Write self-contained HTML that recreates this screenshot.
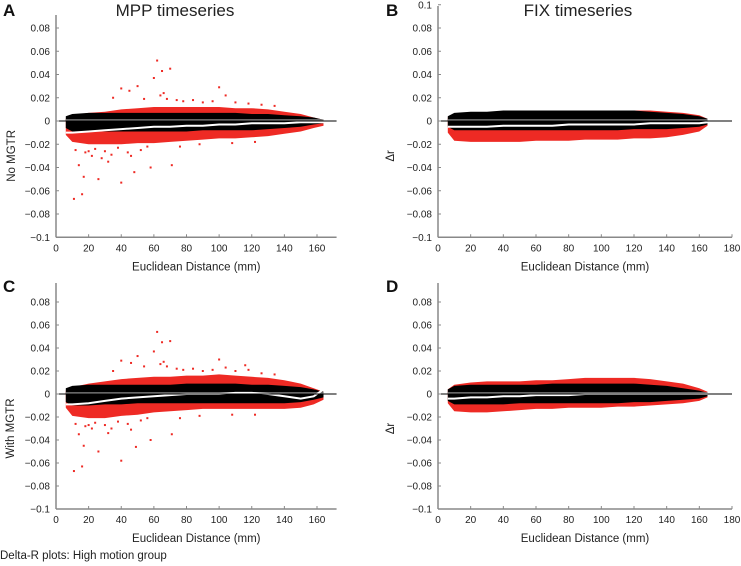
<!DOCTYPE html>
<html><head><meta charset="utf-8"><style>
body{margin:0;background:#fff;}
svg{display:block;font-family:"Liberation Sans",sans-serif;}
</style></head><body>
<svg id="fig" width="741" height="566" viewBox="0 0 741 566"></svg>
<script>
// ---- data (distance bins in mm, delta-r values) ----
const binsAC = [6,10,20,30,40,50,60,70,80,90,100,110,120,130,140,150,158,164];
const binsBD = [6,10,20,30,40,50,60,70,80,90,100,110,120,130,140,150,160,165];
// Panel A
const aBlackTop = [0.004,0.006,0.007,0.007,0.007,0.007,0.007,0.007,0.007,0.007,0.007,0.007,0.006,0.006,0.005,0.004,0.003,0.001];
const aBlackBot = [-0.006,-0.009,-0.009,-0.009,-0.009,-0.009,-0.009,-0.009,-0.009,-0.008,-0.008,-0.008,-0.008,-0.007,-0.006,-0.005,-0.003,-0.002];
const aRedTop   = [0.002,0.005,0.007,0.008,0.010,0.011,0.012,0.012,0.012,0.012,0.012,0.011,0.011,0.010,0.008,0.006,0.003,0.001];
const aRedBot   = [-0.012,-0.018,-0.020,-0.020,-0.020,-0.019,-0.019,-0.018,-0.017,-0.016,-0.015,-0.015,-0.014,-0.013,-0.011,-0.009,-0.006,-0.004];
const aMean     = [-0.010,-0.010,-0.009,-0.008,-0.007,-0.006,-0.005,-0.005,-0.004,-0.004,-0.003,-0.003,-0.002,-0.002,-0.002,-0.001,-0.001,-0.001];
const aOutX = [11,16,17,26,40,48,50,60,62,65,70,71,40,45,100,35,14,22,28,12,18,24,30,34,38,44,52,56,58,64,68,74,78,84,90,96,104,110,118,126,134,20,32,46,54,66,76,88,108,122];
const aOutY = [-0.067,-0.063,-0.048,-0.050,-0.053,-0.044,0.030,0.037,0.052,0.043,0.045,-0.038,0.028,0.026,0.029,0.020,-0.038,-0.030,-0.032,-0.025,-0.027,-0.024,-0.026,-0.029,-0.023,-0.027,-0.025,-0.022,-0.040,0.022,0.019,0.018,0.017,0.018,0.016,0.017,0.022,0.016,0.015,0.014,0.013,-0.026,-0.035,-0.030,0.019,0.024,-0.022,-0.020,-0.019,-0.018];
// Panel B
const bBlackTop = [0.004,0.007,0.008,0.008,0.009,0.009,0.009,0.009,0.009,0.009,0.009,0.009,0.009,0.008,0.007,0.006,0.004,0.002];
const bBlackBot = [-0.005,-0.008,-0.008,-0.008,-0.008,-0.008,-0.008,-0.008,-0.008,-0.008,-0.008,-0.008,-0.007,-0.007,-0.007,-0.006,-0.005,-0.003];
const bRedTop   = [0.003,0.006,0.007,0.007,0.008,0.008,0.008,0.008,0.008,0.008,0.009,0.009,0.009,0.009,0.008,0.007,0.005,0.002];
const bRedBot   = [-0.010,-0.017,-0.018,-0.018,-0.018,-0.018,-0.017,-0.017,-0.017,-0.016,-0.016,-0.016,-0.015,-0.015,-0.014,-0.012,-0.009,-0.004];
const bMean     = [-0.005,-0.005,-0.005,-0.005,-0.004,-0.004,-0.004,-0.004,-0.003,-0.003,-0.003,-0.003,-0.003,-0.002,-0.002,-0.002,-0.002,-0.001];
// Panel C
const cBlackTop = [0.005,0.007,0.008,0.008,0.008,0.008,0.008,0.008,0.009,0.009,0.009,0.009,0.008,0.008,0.007,0.006,0.004,0.002];
const cBlackBot = [-0.007,-0.010,-0.010,-0.009,-0.009,-0.008,-0.008,-0.008,-0.008,-0.008,-0.008,-0.008,-0.008,-0.008,-0.008,-0.007,-0.005,-0.003];
const cRedTop   = [0.003,0.006,0.009,0.011,0.013,0.014,0.015,0.015,0.016,0.016,0.017,0.016,0.015,0.014,0.012,0.009,0.005,0.002];
const cRedBot   = [-0.012,-0.019,-0.021,-0.021,-0.019,-0.018,-0.016,-0.015,-0.014,-0.013,-0.013,-0.013,-0.013,-0.013,-0.013,-0.012,-0.009,-0.005];
const cMean     = [-0.009,-0.009,-0.008,-0.006,-0.004,-0.003,-0.002,-0.001,0.000,0.000,0.000,0.001,0.001,0.000,-0.002,-0.004,-0.002,0.004];
const cOutX = [11,16,17,26,40,49,50,60,62,65,70,71,40,46,100,116,35,14,22,12,18,24,30,34,38,44,52,56,58,64,68,74,78,84,90,96,104,110,118,126,134,20,32,46,54,66,76,88,108,122];
const cOutY = [-0.067,-0.063,-0.045,-0.050,-0.058,-0.046,0.033,0.037,0.054,0.045,0.046,-0.035,0.029,0.027,0.030,0.025,0.020,-0.035,-0.030,-0.026,-0.028,-0.025,-0.027,-0.030,-0.024,-0.026,-0.023,-0.021,-0.040,0.026,0.024,0.022,0.021,0.022,0.020,0.021,0.023,0.020,0.021,0.018,0.017,-0.027,-0.034,-0.031,0.024,0.028,-0.021,-0.019,-0.018,-0.018];
// Panel D
const dBlackTop = [0.004,0.007,0.008,0.008,0.008,0.008,0.008,0.009,0.009,0.009,0.009,0.009,0.009,0.008,0.007,0.005,0.003,0.001];
const dBlackBot = [-0.006,-0.009,-0.009,-0.009,-0.009,-0.008,-0.008,-0.008,-0.008,-0.008,-0.008,-0.008,-0.007,-0.007,-0.006,-0.005,-0.004,-0.002];
const dRedTop   = [0.004,0.008,0.010,0.011,0.011,0.011,0.012,0.012,0.013,0.014,0.014,0.014,0.014,0.013,0.011,0.009,0.005,0.002];
const dRedBot   = [-0.008,-0.015,-0.016,-0.016,-0.015,-0.014,-0.013,-0.013,-0.012,-0.012,-0.012,-0.011,-0.011,-0.010,-0.009,-0.008,-0.006,-0.003];
const dMean     = [-0.004,-0.004,-0.003,-0.003,-0.002,-0.002,-0.001,-0.001,-0.001,0.000,0.000,0.000,0.000,0.000,0.000,0.000,0.000,0.000];
const yTicks = [0.08,0.06,0.04,0.02,0,-0.02,-0.04,-0.06,-0.08,-0.1];
const yTickLabels = ["0.08","0.06","0.04","0.02","0","\u22120.02","\u22120.04","\u22120.06","\u22120.08","\u22120.1"];
const xTicksAC = [0,20,40,60,80,100,120,140,160];
const xTicksBD = [0,20,40,60,80,100,120,140,160,180];

const NS="http://www.w3.org/2000/svg";
const svg=document.getElementById('fig');
function mk(tag,attrs,parent){const e=document.createElementNS(NS,tag);for(const k in attrs)e.setAttribute(k,attrs[k]);(parent||svg).appendChild(e);return e;}

function panel(o){
  const g=mk('g',{});
  
  
  const X=v=>o.x0+(v-0)*(o.x1px-o.x0)/o.x1v;
  const Y=v=>o.yZero-(v)*(o.yZero-o.y08)/0.08;
  const band=(top,bot,fill,nm)=>{
    let d='M'+o.bins.map((b,i)=>X(b).toFixed(1)+','+Y(top[i]).toFixed(1)).join('L');
    for(let i=o.bins.length-1;i>=0;i--)d+='L'+X(o.bins[i]).toFixed(1)+','+Y(bot[i]).toFixed(1);
    const p=mk('path',{d:d+'Z',fill:fill},g);
    
    
  };
  band(o.rt,o.rb,'#ee2a24','red-scatter-cloud');
  band(o.bt,o.bb,'#000','black-scatter-cloud');
  if(o.ox){o.ox.forEach((v,i)=>{const c=mk('rect',{x:X(v)-1,y:Y(o.oy[i])-1,width:2,height:2,fill:'#ee2a24'},g);
    
    });}
  const gl=mk('line',{x1:X(o.bins[0]),x2:X(o.bins[o.bins.length-1]),y1:Y(0.001),y2:Y(0.001),stroke:'#888','stroke-width':1.2},g);
  
  
  const ml=mk('polyline',{points:o.bins.map((b,i)=>X(b).toFixed(1)+','+Y(o.m[i]).toFixed(1)).join(' '),fill:'none',stroke:'#fff','stroke-width':2},g);
  
  
  const ya=mk('line',{x1:o.x0,x2:o.x0,y1:o.yTop,y2:Y(-0.1),stroke:'#888','stroke-width':1.5},g);
  
  
  const xa=mk('line',{x1:o.x0,x2:X(o.xMax),y1:Y(-0.1),y2:Y(-0.1),stroke:'#888','stroke-width':1.5},g);
  
  
  const zl=mk('line',{x1:o.x0,x2:X(o.xMax),y1:Y(0),y2:Y(0),stroke:'#000','stroke-width':1},g);
  
  
  const yt=o.topTick?[0.1].concat(yTicks):yTicks, ytl=o.topTick?["0.1"].concat(yTickLabels):yTickLabels;
  yt.forEach((v,i)=>{mk('line',{x1:o.x0,x2:o.x0+3,y1:Y(v),y2:Y(v),stroke:'#888'},g);
    const t=mk('text',{x:o.x0-6,y:Y(v)+3.5,'text-anchor':'end','font-size':10,fill:'#222'},g);t.textContent=ytl[i];
    
    });
  o.xt.forEach(v=>{mk('line',{x1:X(v),x2:X(v),y1:Y(-0.1),y2:Y(-0.1)-3,stroke:'#888'},g);
    const t=mk('text',{x:X(v),y:Y(-0.1)+14,'text-anchor':'middle','font-size':10,fill:'#222'},g);t.textContent=v;
    
    });
  const xt=mk('text',{x:o.x0+(X(o.xMax)-o.x0)/2,y:Y(-0.1)+33,'text-anchor':'middle','font-size':11.5,fill:'#222'},g);
  xt.textContent='Euclidean Distance (mm)';
  
  
  const L=mk('text',{x:o.lx,y:o.ly,'font-size':17,'font-weight':'bold',fill:'#111'},g);L.textContent=o.letter;
  
  
  if(o.title){const T=mk('text',{x:o.tx,y:16,'text-anchor':'middle','font-size':17,fill:'#222'},g);T.textContent=o.title;
    
    }
  const yl=mk('text',{transform:`translate(${o.ytx},${Y(-0.03)}) rotate(-90)`,'font-size':11.5,fill:'#222','text-anchor':'middle'},g);
  yl.textContent=o.ylab;
  
  
}
panel({name:'panel-a',letter:'A',lx:3,ly:16,title:'MPP timeseries',tx:175,x0:56,x1px:317,x1v:160,xMax:172,yZero:121,y08:28,yTop:15,bins:binsAC,bt:aBlackTop,bb:aBlackBot,rt:aRedTop,rb:aRedBot,m:aMean,ox:aOutX,oy:aOutY,xt:xTicksAC,ylab:'No MGTR',ytx:15});
panel({name:'panel-b',letter:'B',lx:386,ly:16,title:'FIX timeseries',tx:578,x0:438,x1px:732,x1v:180,xMax:180,yZero:121,y08:28,yTop:6,topTick:true,bins:binsBD,bt:bBlackTop,bb:bBlackBot,rt:bRedTop,rb:bRedBot,m:bMean,xt:xTicksBD,ylab:'\u0394r',ytx:394});
panel({name:'panel-c',letter:'C',lx:3,ly:292,x0:56,x1px:317,x1v:160,xMax:172,yZero:394,y08:302,yTop:283,bins:binsAC,bt:cBlackTop,bb:cBlackBot,rt:cRedTop,rb:cRedBot,m:cMean,ox:cOutX,oy:cOutY,xt:xTicksAC,ylab:'With MGTR',ytx:14});
panel({name:'panel-d',letter:'D',lx:386,ly:292,x0:438,x1px:732,x1v:180,xMax:180,yZero:394,y08:302,yTop:283,bins:binsBD,bt:dBlackTop,bb:dBlackBot,rt:dRedTop,rb:dRedBot,m:dMean,xt:xTicksBD,ylab:'\u0394r',ytx:394});
const cap=mk('text',{x:0,y:559,'font-size':11.5,fill:'#222'});
cap.textContent='Delta-R plots: High motion group';


</script>
</body></html>
